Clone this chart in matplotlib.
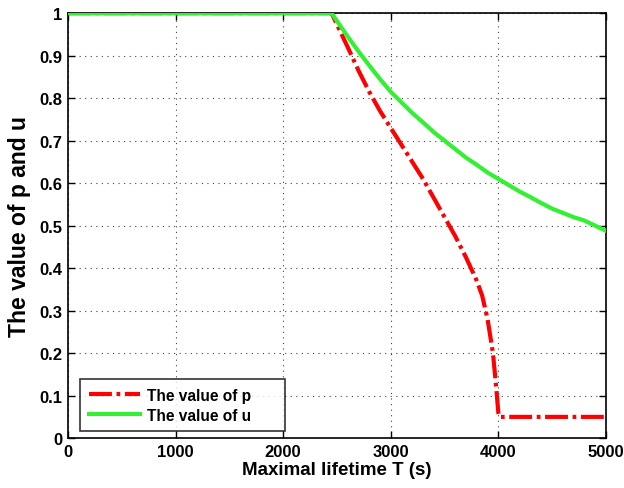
import matplotlib
matplotlib.use("Agg")
import matplotlib.pyplot as plt

plt.rcParams['font.family'] = ['Liberation Sans', 'DejaVu Sans']

T_p = [0, 2450, 2600, 2700, 2800, 2900, 3000, 3100, 3200, 3300, 3400, 3500,
       3600, 3700, 3800, 3850, 3900, 3950, 3980, 4000, 4010, 5000]
p_vals = [1.0, 1.0, 0.92, 0.865, 0.815, 0.77, 0.73, 0.69, 0.65, 0.61, 0.565, 0.52,
          0.475, 0.425, 0.37, 0.335, 0.28, 0.20, 0.12, 0.06, 0.05, 0.05]

T_u = [0, 2450, 2600, 2700, 2800, 2900, 3000, 3100, 3200, 3300, 3400, 3500,
       3600, 3700, 3800, 3900, 4000, 4100, 4200, 4300, 4400, 4500, 4600, 4700,
       4800, 4900, 5000]
u_vals = [1.0, 1.0, 0.945, 0.91, 0.877, 0.845, 0.815, 0.79, 0.765, 0.743, 0.72,
          0.70, 0.68, 0.66, 0.643, 0.625, 0.61, 0.595, 0.58, 0.567, 0.553, 0.54,
          0.53, 0.52, 0.512, 0.50, 0.488]

x_ticks = [0, 1000, 2000, 3000, 4000, 5000]
y_ticks = [0, 0.1, 0.2, 0.3, 0.4, 0.5, 0.6, 0.7, 0.8, 0.9, 1]
y_tick_labels = ['0', '0.1', '0.2', '0.3', '0.4', '0.5', '0.6', '0.7', '0.8', '0.9', '1']

fig = plt.figure(figsize=(6.24, 4.89), dpi=100)
ax = fig.add_axes([0.109, 0.102, 0.862, 0.869])

ax.plot(T_p, p_vals, color='#ff0000', linewidth=3.0,
        linestyle=(0, (5.5, 1.1, 0.9, 1.1)),
        label='The value of p', zorder=3)
ax.plot(T_u, u_vals, color='#33f033', linewidth=3.0, linestyle='-',
        label='The value of u', zorder=3)

ax.set_xlim(0, 5000)
ax.set_ylim(0, 1)
ax.set_xticks(x_ticks)
ax.set_yticks(y_ticks)
ax.set_yticklabels(y_tick_labels)
ax.grid(True, linestyle=(0, (1, 4)), color='#444444', linewidth=0.8)
ax.tick_params(direction='in', top=True, right=True, length=5, width=1,
               labelsize=12, pad=4)
for lbl in ax.get_xticklabels() + ax.get_yticklabels():
    lbl.set_fontweight('bold')
for s in ax.spines.values():
    s.set_linewidth(1.2)

ax.set_xlabel('Maximal lifetime T (s)', fontsize=13.5, fontweight='bold', labelpad=2)
ax.set_ylabel('The value of p and u', fontsize=16.5, fontweight='bold', labelpad=6)

leg = ax.legend(loc='lower left', bbox_to_anchor=(0.0223, 0.0165, 0.381, 0.11),
                mode='expand', frameon=True, fancybox=False, edgecolor='black',
                handlelength=3.3, handletextpad=0.45, borderpad=0.55,
                labelspacing=0.3, borderaxespad=0.0,
                prop={'weight': 'bold', 'size': 11.2})
leg.get_frame().set_linewidth(1.2)

fig.savefig('out.png', dpi=100)
